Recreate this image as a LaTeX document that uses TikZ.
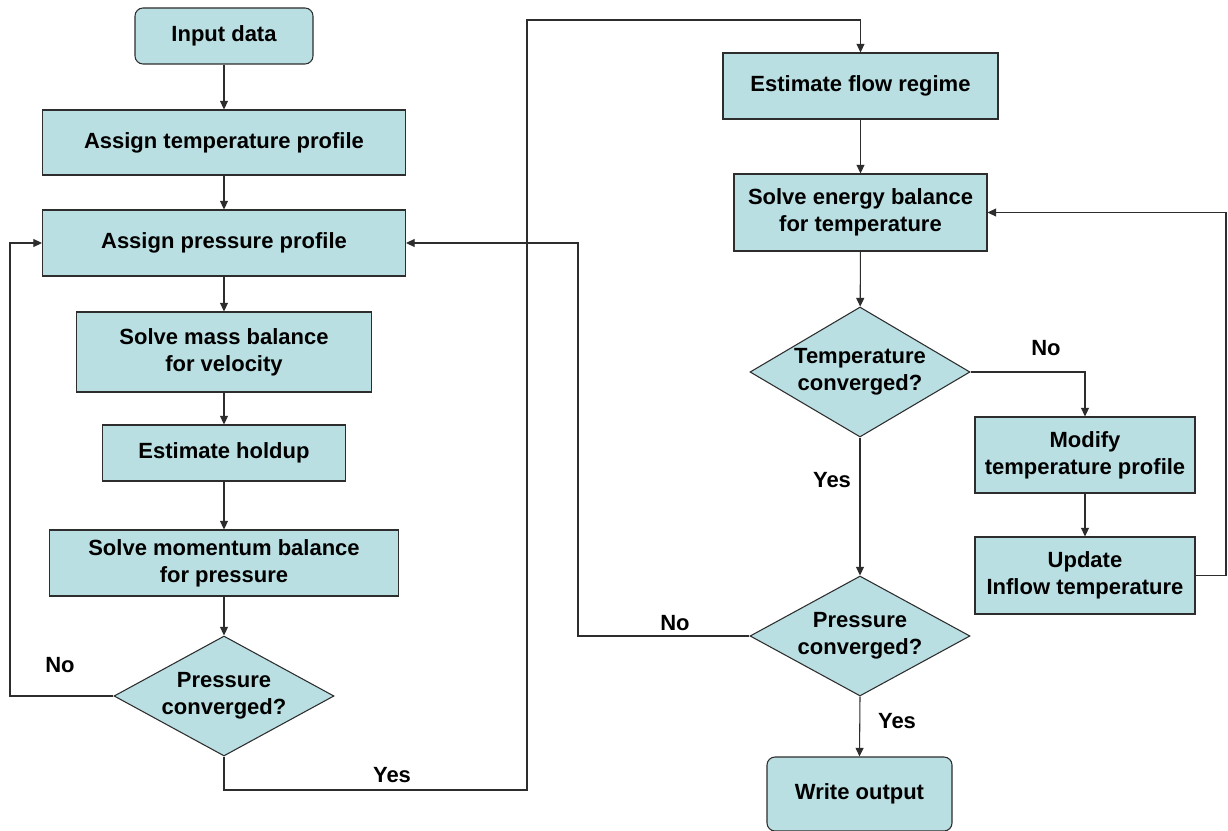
\documentclass[tikz,border=0pt]{standalone}
\usepackage{fontspec}
\setmainfont{Liberation Sans}
\usetikzlibrary{shapes.geometric,arrows.meta}
\definecolor{boxfill}{RGB}{186,223,226}
\definecolor{edge}{RGB}{45,45,45}
\begin{document}
\begin{tikzpicture}[x=0.75pt,y=-0.75pt,
  every node/.style={font=\fontsize{16.5}{20}\selectfont\bfseries},
  box/.style={draw=edge,fill=boxfill,line width=0.8pt,inner sep=0pt,align=center},
  rbox/.style={box,rounded corners=6pt},
  dec/.style={draw=edge,fill=boxfill,line width=0.8pt,diamond,inner sep=0pt,align=center},
  lab/.style={inner sep=0pt},
  arr/.style={draw=edge,line width=0.8pt,-{Triangle[width=6pt,length=6.5pt]}},
  ln/.style={draw=edge,line width=0.8pt}]
\useasboundingbox (0,0) rectangle (1228,831);
\fill[white] (0,0) rectangle (1228,831);
% left column
\node[rbox,minimum width=133.5pt,minimum height=42pt] (in) at (224,36) {Input data};
\node[box,minimum width=272.25pt,minimum height=48.75pt] (at) at (224,142.5) {Assign temperature profile};
\node[box,minimum width=272.25pt,minimum height=49.5pt] (ap) at (224,243) {Assign pressure profile};
\node[box,minimum width=221.25pt,minimum height=60pt] (mass) at (224,352) {Solve mass balance\\for velocity};
\node[box,minimum width=182.25pt,minimum height=42pt] (hold) at (224,453) {Estimate holdup};
\node[box,minimum width=261.75pt,minimum height=49.5pt] (mom) at (224,563) {Solve momentum balance\\for pressure};
\node[dec,minimum width=165pt,minimum height=90pt,aspect=1.83] (pc1) at (224,696) {Pressure\\converged?};
% right column
\node[box,minimum width=206.25pt,minimum height=49.5pt] (efr) at (860.5,86) {Estimate flow regime};
\node[box,minimum width=189.75pt,minimum height=57.75pt] (en) at (860.5,212.5) {Solve energy balance\\for temperature};
\node[dec,minimum width=165pt,minimum height=97.5pt,aspect=1.69] (tc) at (860,372) {Temperature\\converged?};
\node[box,minimum width=165pt,minimum height=57pt] (mod) at (1085,455) {Modify\\temperature profile};
\node[box,minimum width=165pt,minimum height=57.75pt] (upd) at (1085,575.5) {Update\\Inflow temperature};
\node[dec,minimum width=165pt,minimum height=90pt,aspect=1.83] (pc2) at (860,636) {Pressure\\converged?};
\node[rbox,minimum width=138.75pt,minimum height=55.5pt] (wo) at (859.5,794) {Write output};
% helper coordinates
\coordinate (lft) at (10,450);
\coordinate (y1) at (527,790);
\coordinate (y2) at (527,20);
\coordinate (rgt) at (1226,400);
\coordinate (mid) at (578,400);
% connectors
\draw[arr] (in) -- (at);
\draw[arr] (at) -- (ap);
\draw[arr] (ap) -- (mass);
\draw[arr] (mass) -- (hold);
\draw[arr] (hold) -- (mom);
\draw[arr] (mom) -- (pc1);
\draw[arr] (pc1.west) -| (lft) |- (ap.west);
\draw[arr] (pc1.south) |- (y1) -- (y2) -| (efr.north);
\draw[arr] (efr) -- (en);
\draw[arr] (en) -- (tc);
\draw[arr] (tc.east) -| (mod.north);
\draw[arr] (mod) -- (upd);
\draw[arr] (upd.east) -| (rgt) |- (en.east);
\draw[arr] (tc.south) -- (pc2.north);
\draw[arr] (pc2.west) -| (mid) |- (ap.east);
\draw[arr] (pc2.south) -- (wo.north);
% labels
\node[lab] (l1) at (60,665) {No};
\node[lab] (l2) at (392,775) {Yes};
\node[lab] (l3) at (1046,348) {No};
\node[lab] (l4) at (832,480) {Yes};
\node[lab] (l5) at (675,623) {No};
\node[lab] (l6) at (897,721) {Yes};
\end{tikzpicture}
\end{document}
